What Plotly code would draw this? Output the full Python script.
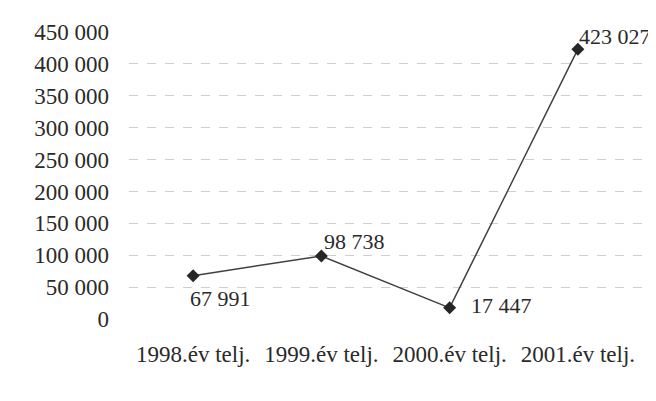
import plotly.graph_objects as go

categories = ["1998.év telj.", "1999.év telj.", "2000.év telj.", "2001.év telj."]
values = [67991, 98738, 17447, 423027]
value_labels = ["67 991", "98 738", "17 447", "423 027"]
tick_values = [0, 50000, 100000, 150000, 200000, 250000, 300000, 350000, 400000, 450000]
tick_labels = ["0", "50 000", "100 000", "150 000", "200 000", "250 000",
               "300 000", "350 000", "400 000", "450 000"]

# label offsets (pixels) relative to each point
label_xshift = [-5, 1, 19, -1]
label_yshift = [-23, 15, 2, 13]

font_family = "Liberation Serif"
text_color = "#2a2a2a"

fig = go.Figure()
fig.add_trace(go.Scatter(
    x=categories, y=values,
    mode="lines+markers",
    line=dict(color="#404040", width=1.5),
    marker=dict(symbol="diamond", size=10, color="#262626"),
    cliponaxis=False,
    showlegend=False,
))

for cat, val, lab, dx, dy in zip(categories, values, value_labels, label_xshift, label_yshift):
    fig.add_annotation(
        x=cat, y=val, text=lab, showarrow=False,
        xanchor="left", yanchor="middle",
        xshift=dx, yshift=dy,
        font=dict(family=font_family, size=22, color=text_color),
    )

# page body has an 8px margin, so the figure is drawn 8px smaller
fig.update_layout(
    width=648, height=393,
    margin=dict(l=121, r=14, t=18, b=82),
    paper_bgcolor="white",
    plot_bgcolor="white",
    font=dict(family=font_family, size=23, color=text_color),
)
fig.update_xaxes(
    range=[-0.5, 3.5],
    showgrid=False, showline=False, zeroline=False,
    ticks="", ticklabelstandoff=19,
    tickfont=dict(family=font_family, size=23, color=text_color),
)
fig.update_yaxes(
    range=[0, 450000],
    tickvals=tick_values, ticktext=tick_labels,
    showgrid=True, gridcolor="#cfcfcf", griddash="dash", gridwidth=1,
    zeroline=False, showline=False, ticks="",
    ticklabelstandoff=19,
    tickfont=dict(family=font_family, size=23, color=text_color),
)

fig.write_html("out.html")
